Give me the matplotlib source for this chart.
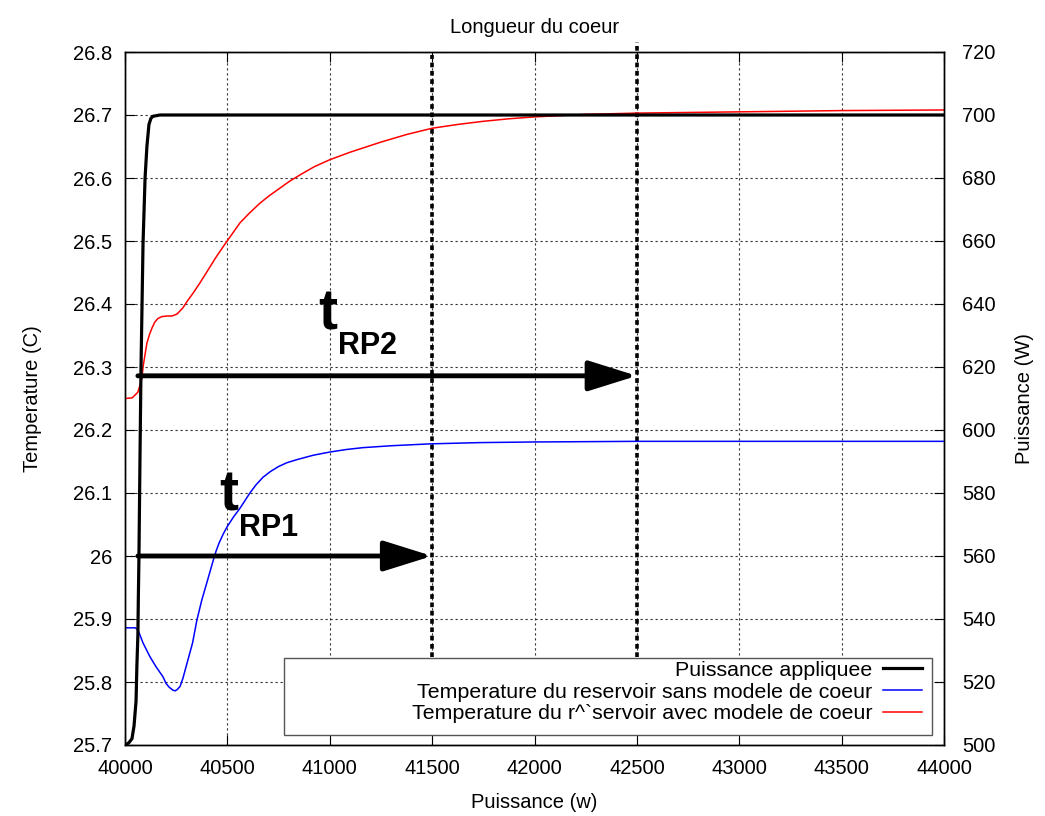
import matplotlib
matplotlib.use('Agg')
import matplotlib.pyplot as plt
from matplotlib.ticker import FuncFormatter, MultipleLocator
from matplotlib.patches import Rectangle

plt.rcParams['font.family'] = ['Liberation Sans', 'DejaVu Sans']

# ---------------- data ----------------
power_t = [40000, 40010, 40020, 40034, 40044, 40054, 40058, 40063, 40065, 40068, 40073,
           40078, 40083, 40088, 40098, 40107, 40117, 40127, 40137, 40171, 44000]
power_w = [500, 500.3, 500.8, 502, 506, 514, 525, 535, 546, 559, 590,
           619, 639, 659, 680, 690, 697, 699, 699.6, 700, 700]

blue_t = [40000, 40050, 40063, 40088, 40122, 40150, 40186, 40200, 40215, 40234, 40245,
          40255, 40269, 40283, 40303, 40330, 40351, 40375, 40400, 40430, 40445, 40460,
          40480, 40498, 40530, 40562, 40590, 40610, 40640, 40674, 40710, 40750, 40790,
          40840, 40920, 41000, 41080, 41162, 41300, 41490, 41734, 42000, 42500, 44000]
blue_c = [25.886, 25.886, 25.883, 25.862, 25.840, 25.825, 25.808, 25.798, 25.792, 25.787, 25.786,
          25.788, 25.793, 25.806, 25.830, 25.862, 25.898, 25.930, 25.958, 25.992, 26.008, 26.021,
          26.035, 26.046, 26.062, 26.076, 26.090, 26.100, 26.113, 26.125, 26.134, 26.142, 26.148,
          26.153, 26.160, 26.165, 26.169, 26.172, 26.175, 26.178, 26.180, 26.181, 26.182, 26.182]

red_t = [40000, 40035, 40063, 40083, 40088, 40107, 40120, 40132, 40145, 40161, 40180,
         40205, 40230, 40254, 40283, 40305, 40332, 40365, 40400, 40440, 40488, 40525,
         40562, 40610, 40659, 40705, 40757, 40800, 40855, 40925, 41000, 41100, 41250,
         41375, 41500, 41625, 41750, 41875, 42000, 42250, 42500, 42750, 43000, 43500, 44000]
red_c = [26.250, 26.251, 26.260, 26.282, 26.300, 26.338, 26.352, 26.362, 26.371, 26.377, 26.380,
         26.381, 26.381, 26.384, 26.394, 26.405, 26.417, 26.433, 26.451, 26.472, 26.495, 26.512,
         26.529, 26.545, 26.560, 26.572, 26.584, 26.594, 26.605, 26.618, 26.629, 26.641, 26.657,
         26.669, 26.679, 26.685, 26.690, 26.694, 26.697, 26.701, 26.703, 26.704, 26.705, 26.707, 26.708]

labels = ["Puissance appliquee",
          "Temperature du reservoir sans modele de coeur",
          "Temperature du r^`servoir avec modele de coeur"]

x_ticks = [40000, 40500, 41000, 41500, 42000, 42500, 43000, 43500, 44000]
t_marks = [41500, 42500]          # tRP1 end, tRP2 end
arrow_start = 40063
arrow_levels = [26.0, 26.286]

fs = 14.5

fig = plt.figure(figsize=(10.45, 8.16), dpi=100)
ax = fig.add_axes([125 / 1045, 1 - 745 / 816, 819 / 1045, 693 / 816])
ax2 = ax.twinx()

ax.set_xlim(40000, 44000)
ax.set_ylim(25.7, 26.8)
ax2.set_ylim(500, 720)
ax.set_xticks(x_ticks)
ax.yaxis.set_major_locator(MultipleLocator(0.1))
ax.yaxis.set_major_formatter(FuncFormatter(lambda v, p: '%g' % round(v, 3)))
ax2.yaxis.set_major_locator(MultipleLocator(20))

for a in (ax, ax2):
    for s in a.spines.values():
        s.set_color('black')
        s.set_linewidth(1.0)

ax.tick_params(axis='both', direction='in', length=7, width=0.8, labelsize=fs, top=True)
ax.tick_params(axis='y', pad=9)
ax.tick_params(axis='x', pad=10)
ax2.tick_params(axis='y', direction='in', length=7, width=0.8, labelsize=fs, pad=13)

ax.grid(True, color='#333333', lw=0.8, linestyle=(0, (2, 2.5)))
ax.set_axisbelow(True)

lb, = ax.plot(blue_t, blue_c, color='#0000ff', lw=1.1, zorder=3)
lr, = ax.plot(red_t, red_c, color='#ff0000', lw=1.1, zorder=3)
lp, = ax2.plot(power_t, power_w, color='black', lw=2.3, zorder=3)

# vertical dotted markers
ax.plot([t_marks[0]] * 2, [25.84, 26.795], color='black', lw=2.6,
        linestyle=(0, (1.3, 1.0)), clip_on=False, zorder=2)
ax.plot([t_marks[1]] * 2, [25.84, 26.816], color='black', lw=2.6,
        linestyle=(0, (1.3, 1.0)), clip_on=False, zorder=2)

# arrows
for xe, yl in zip(t_marks, arrow_levels):
    ax.annotate('', xy=(xe, yl), xytext=(arrow_start, yl),
                arrowprops=dict(arrowstyle='-|>,head_length=1.5,head_width=0.47',
                                lw=3.5, color='black', shrinkA=0, shrinkB=0,
                                mutation_scale=20), zorder=4)

# t_RP labels
ax.text(40459, 26.073, 't', fontsize=41, fontweight='bold', ha='left', va='baseline', zorder=5)
ax.text(40557, 26.032, 'RP1', fontsize=22, fontweight='bold', ha='left', va='baseline', zorder=5)
ax.text(40943, 26.359, 't', fontsize=41, fontweight='bold', ha='left', va='baseline', zorder=5)
ax.text(41040, 26.321, 'RP2', fontsize=22, fontweight='bold', ha='left', va='baseline', zorder=5)

# labels
ax.set_title('Longueur du coeur', fontsize=fs, pad=14)
ax.set_xlabel('Puissance (w)', fontsize=fs)
ax.xaxis.set_label_coords(0.5, (745 - 803) / 693)
ax.xaxis.label.set_va('center')
ax.set_ylabel('Temperature (C)', fontsize=fs)
ax.yaxis.set_label_coords((33 - 125) / 819, 0.5)
ax.yaxis.label.set_va('center')
ax2.set_ylabel('Puissance (W)', fontsize=fs, rotation=90)
ax2.yaxis.set_label_coords((1025 - 125) / 819, 0.5)
ax2.yaxis.label.set_va('center')

# legend box (gnuplot style: text right-aligned, sample on the right)
box = Rectangle((0.194, 0.0144), 0.791, 0.111, transform=ax2.transAxes,
                facecolor='white', edgecolor='#555555', lw=1.0, zorder=9)
ax2.add_patch(box)
leg = ax2.legend([lp, lb, lr], labels, loc='center right',
                 bbox_to_anchor=((922 - 125) / 819, (745 - 692) / 693),
                 markerfirst=False, fontsize=15.4, handlelength=1.82, handletextpad=0.5,
                 labelspacing=0.14, borderpad=0, borderaxespad=0, frameon=False)
leg.set_zorder(10)

fig.savefig('out.png', dpi=100)
